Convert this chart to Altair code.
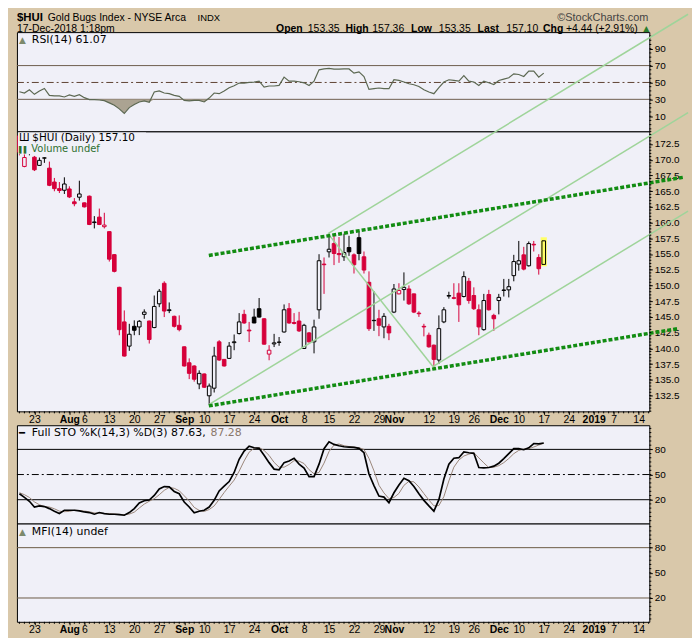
import altair as alt
import pandas as pd

# ------------------------------------------------------------------
# values
# trading-day index: 0 = Mon 23-Jul-2018 ... 102 = Mon 17-Dec-2018
# ------------------------------------------------------------------
day_index = list(range(-3, 103))

opens = [
    173.8, 168.93, 172.3,
    170.4, 169.1, 170.25, 168.66, 166.45, 165.4, 165.14, 165.35, 163.3, 164.04,
    163.14, 164.2, 160.0, 160.87, 159.35, 158.56, 154.9, 149.7, 144.2, 140.35,
    143.5, 143.4, 145.4, 144.34, 143.3, 147.08, 150.35, 146.0, 145.09, 143.66,
    140.24, 137.7, 137.19, 134.34, 135.92, 132.45, 133.66, 141.03, 138.24, 138.4,
    140.9, 142.35, 145.4, 142.9, 144.97, 146.3, 144.7, 139.08, 140.7, 140.95,
    142.6, 146.3, 144.1, 144.34, 139.97, 142.45, 141.03, 146.13, 153.4, 155.35,
    156.66, 155.08, 154.56, 156.03, 154.87, 157.6, 154.56, 150.5, 144.4, 144.7,
    143.4, 143.5, 145.76, 148.66, 149.35, 149.44, 148.66, 145.6, 143.5, 142.08,
    140.5, 138.14, 144.2, 148.3, 148.05, 148.77, 148.24, 150.66, 148.4, 146.13,
    142.97, 148.56, 145.24, 147.6, 149.2, 149.3, 151.56, 153.4, 154.87, 153.13,
    156.55, 154.45, 153.35,
]
highs = [
    174.0, 170.87, 172.6,
    170.6, 170.35, 170.4, 169.7, 167.1, 166.45, 167.2, 165.77, 163.9, 166.66,
    163.2, 164.3, 161.03, 162.23, 161.56, 158.6, 155.0, 149.8, 146.03, 143.9,
    144.45, 144.5, 146.2, 144.4, 148.4, 149.44, 150.66, 147.3, 145.2, 145.24,
    140.3, 138.4, 137.3, 136.5, 136.0, 134.4, 140.24, 141.3, 138.3, 141.0,
    142.2, 145.6, 146.13, 144.2, 146.3, 148.0, 144.8, 140.5, 142.3, 141.8,
    146.98, 147.2, 145.6, 145.8, 143.9, 142.6, 144.55, 154.97, 154.45, 158.24,
    157.87, 157.7, 158.24, 157.9, 155.1, 158.56, 155.4, 152.24, 149.08, 146.13,
    145.6, 143.9, 150.23, 150.35, 152.08, 150.0, 148.7, 145.9, 143.9, 142.5,
    140.6, 145.24, 146.55, 149.0, 150.35, 150.35, 152.24, 151.2, 149.7, 146.98,
    148.66, 149.3, 145.5, 148.66, 151.04, 151.04, 154.87, 157.08, 156.14, 157.0,
    157.08, 154.97, 157.36,
]
lows = [
    170.7, 168.8, 170.7,
    168.2, 169.0, 169.5, 165.8, 164.98, 164.7, 164.55, 163.9, 162.6, 163.5,
    162.4, 159.6, 159.07, 159.6, 159.07, 153.8, 152.08, 142.08, 138.7, 139.6,
    142.08, 142.1, 144.7, 140.76, 143.2, 146.55, 144.97, 145.6, 143.3, 142.7,
    137.1, 135.1, 134.7, 133.5, 133.7, 131.03, 132.97, 138.0, 137.1, 138.3,
    139.7, 142.2, 143.9, 141.0, 144.0, 144.9, 140.6, 138.1, 140.2, 140.4,
    142.5, 143.9, 143.8, 142.6, 139.9, 140.9, 139.2, 144.7, 148.66, 154.45,
    153.24, 153.6, 153.9, 154.7, 151.9, 154.0, 151.9, 142.77, 142.77, 141.93,
    141.6, 141.3, 145.6, 148.6, 147.6, 146.9, 145.6, 145.0, 141.9, 140.1,
    136.97, 137.5, 144.0, 147.9, 147.8, 144.2, 148.1, 147.1, 146.1, 142.08,
    142.8, 146.0, 142.77, 145.4, 148.24, 148.1, 150.66, 152.35, 152.4, 153.0,
    155.4, 151.72, 153.35,
]
closes = [
    171.2, 170.35, 171.3,
    168.4, 169.9, 170.3, 165.93, 165.4, 165.1, 166.14, 164.08, 163.0, 164.55,
    162.5, 159.7, 160.1, 159.7, 159.6, 154.18, 152.24, 142.97, 138.77, 142.24,
    142.87, 144.3, 145.76, 141.4, 146.66, 149.08, 145.93, 146.13, 143.5, 142.97,
    137.19, 136.02, 135.08, 136.02, 133.81, 134.0, 138.77, 138.14, 137.19, 140.35,
    141.03, 144.2, 144.03, 142.77, 144.03, 144.97, 140.66, 139.7, 140.87, 141.0,
    146.13, 144.03, 143.95, 142.77, 143.66, 141.03, 143.4, 153.93, 153.3, 155.76,
    155.08, 154.9, 155.24, 155.35, 153.3, 155.08, 152.45, 143.13, 144.45, 143.66,
    145.09, 142.45, 149.44, 149.2, 149.7, 147.08, 145.76, 145.5, 143.4, 140.24,
    138.24, 143.13, 146.13, 148.4, 147.95, 146.92, 151.4, 147.6, 146.3, 143.4,
    147.6, 146.13, 144.7, 148.1, 149.28, 149.8, 153.8, 153.93, 152.6, 156.66,
    156.45, 152.66, 157.10,
]
prior_close = 172.8

rsi14 = [
    39.0, 37.5, 41.4,
    35.9, 39.9, 42.9, 34.7, 34.0, 34.0, 32.8, 35.2, 33.5, 35.5,
    32.0, 29.6, 29.6, 29.2, 28.5, 25.8, 22.9, 18.7, 13.2, 20.2,
    23.8, 26.9, 28.1, 26.5, 38.7, 39.9, 37.5, 36.7, 34.7, 33.5,
    28.8, 28.1, 28.8, 28.8, 26.9, 31.5, 37.5, 36.7, 39.9, 43.8,
    46.1, 49.3, 49.3, 50.0, 50.5, 51.6, 44.6, 45.8, 45.8, 46.5,
    56.3, 51.6, 51.6, 50.8, 49.6, 46.5, 51.6, 65.0, 66.1, 66.6,
    65.9, 65.7, 66.2, 66.0, 61.0, 62.6, 57.1, 41.8, 42.6, 43.4,
    42.6, 42.6, 53.2, 52.4, 50.5, 48.5, 47.3, 45.3, 41.4, 38.7,
    36.7, 43.8, 50.5, 53.2, 52.4, 51.6, 58.2, 51.6, 50.5, 46.5,
    51.6, 49.6, 47.6, 52.4, 54.0, 55.5, 60.2, 59.4, 57.1, 63.4,
    63.4, 56.3, 61.07,
]
sto_k = [
    27.1, 22.8, 18.1,
    11.3, 12.6, 11.8, 9.4, 6.3, 3.5, 7.4, 7.4, 7.4, 6.7,
    5.4, 4.7, 2.7, 4.7, 3.5, 2.7, 2.7, 2.3, 1.5, 4.7,
    9.4, 16.1, 18.8, 19.6, 25.1, 32.9, 35.7, 35.3, 29.8, 27.1,
    17.2, 11.3, 4.3, 6.3, 7.4, 11.3, 19.2, 30.5, 36.1, 41.6,
    52.5, 68.2, 78.0, 83.9, 81.9, 81.2, 72.9, 64.2, 56.5, 55.7,
    64.2, 66.2, 69.4, 62.4, 57.6, 47.5, 47.5, 62.4, 80.8, 89.0,
    85.9, 84.3, 83.1, 82.7, 82.4, 81.2, 76.0, 50.6, 36.8, 24.3,
    23.1, 16.5, 28.3, 37.6, 45.5, 42.7, 35.7, 27.1, 19.2, 12.6,
    6.3, 20.0, 44.7, 62.4, 69.4, 70.1, 76.9, 76.0, 75.3, 58.4,
    58.0, 58.4, 60.0, 63.5, 69.0, 74.9, 80.8, 80.8, 79.6, 81.9,
    87.0, 86.6, 87.63,
]
sto_d = [
    28.4, 26.0, 22.7,
    17.4, 14.0, 11.9, 11.3, 9.2, 6.4, 5.7, 6.1, 7.4, 7.2,
    6.5, 5.6, 4.3, 4.0, 3.6, 3.6, 3.0, 2.6, 2.2, 2.8,
    5.2, 10.1, 14.8, 18.2, 21.2, 25.9, 31.2, 34.6, 33.6, 30.7,
    24.7, 18.5, 10.9, 7.3, 6.0, 8.3, 12.6, 20.3, 28.6, 36.1,
    43.4, 54.1, 66.2, 76.7, 81.3, 82.3, 78.7, 72.8, 64.5, 58.8,
    58.8, 62.0, 66.6, 66.0, 63.1, 55.8, 50.9, 52.5, 63.6, 77.4,
    85.2, 86.4, 84.4, 83.4, 82.7, 82.1, 79.9, 69.3, 54.5, 37.2,
    28.1, 21.3, 22.6, 27.5, 37.1, 41.9, 41.3, 35.2, 27.3, 19.6,
    12.7, 13.0, 23.7, 42.4, 58.8, 67.3, 72.1, 74.3, 76.1, 69.9,
    63.9, 58.3, 58.8, 60.6, 64.2, 69.1, 74.9, 78.8, 80.4, 80.8,
    82.8, 85.2, 87.28,
]

x_tick_index = [0, 7, 10, 15, 20, 25, 30, 34, 39, 44, 49, 54, 59, 64, 69, 72,
                79, 84, 88, 93, 97, 102, 107, 112, 116, 121]
x_tick_label = ["23", "Aug", "6", "13", "20", "27", "Sep", "10", "17", "24", "Oct",
                "8", "15", "22", "29", "Nov", "12", "19", "26", "Dec", "10", "17",
                "24", "2019", "7", "14"]
x_month_index = [7, 30, 49, 72, 93, 112]
calendar_days = list(range(-3, 124))

price_ticks = [132.5, 135.0, 137.5, 140.0, 142.5, 145.0, 147.5, 150.0, 152.5,
               155.0, 157.5, 160.0, 162.5, 165.0, 167.5, 170.0, 172.5]
price_minor = [130.0 + 0.5 * k for k in range(90)]
rsi_ticks = [10, 30, 50, 70, 90]
osc_ticks = [20, 50, 80]
osc_minor = list(range(-5, 110, 5))

channel_name = ["upper", "upper", "lower", "lower"]
channel_day = [34.93, 129.84, 34.93, 128.85]
channel_price = [154.77, 167.19, 130.84, 143.13]

fork_name = ["median", "median", "upper", "upper", "lower", "lower", "handle", "handle"]
fork_day = [34.93, 130.9, 58.8, 130.9, 79.8, 130.9, 58.8, 79.8]
fork_price = [131.03, 177.49, 158.24, 193.14, 137.1, 161.84, 158.24, 137.1]

# ------------------------------------------------------------------
# layout / style
# ------------------------------------------------------------------
W = 637
H_RSI, H_MAIN, H_GAP, H_STO, H_MFI = 100, 282, 14, 99, 99
X_DOMAIN = [-3.499, 123.14]
PRICE_DOMAIN = [129.973, 174.505]
RSI_DOMAIN = [-8.0, 109.65]
OSC_DOMAIN = [-8.4, 108.76]

TAN = "#d9c8aa"
PANEL = "#f0f0f8"
RED = "#d6003a"
YELLOW = "#ffff66"
DOT_GREEN = "#128c12"
FORK_GREEN = "#9fd49a"
RSI_LINE = "#5c6852"
RSI_FILL = "#a39a86"
LEVEL_BROWN = "#6e5e4e"
D_LINE = "#9a867a"
VOL_GREEN = "#2f6f2f"
ICON = "#7d8a6c"

AX_FONT = "Liberation Sans"
LEG_FONT = "DejaVu Sans"

panel_view = alt.ViewBackground(fill=PANEL, stroke="black", strokeWidth=1)

# ------------------------------------------------------------------
# tables
# ------------------------------------------------------------------
rows = []
prev = prior_close
last_day = day_index[-1]
for d, o, h, l, c in zip(day_index, opens, highs, lows, closes):
    edge = "black" if c >= prev else RED
    if d == last_day:
        face = YELLOW
    elif c < o:
        face = edge
    else:
        face = PANEL
    rows.append(dict(day=d, low=l, high=h, top=max(o, c), bot=min(o, c),
                     left=d - 0.36, right=d + 0.36, edge=edge, face=face))
    prev = c
candles = pd.DataFrame(rows)
halo = candles[candles.day == last_day].copy()
halo["left"] = halo["day"] - 0.62
halo["right"] = halo["day"] + 0.62
halo["low"] = halo["low"] - 0.3
halo["high"] = halo["high"] + 0.3

osc = pd.DataFrame({"day": day_index, "rsi": rsi14, "k": sto_k, "d": sto_d})
osc["lo"] = osc["rsi"].clip(upper=30)
osc["lvl"] = 30

channels = pd.DataFrame({"name": channel_name, "day": channel_day, "price": channel_price})
forks = pd.DataFrame({"name": fork_name, "day": fork_day, "price": fork_price})
days = pd.DataFrame({"day": calendar_days})
one = pd.DataFrame({"k": [0]})

xs = alt.Scale(domain=X_DOMAIN, nice=False, zero=False)


def X(field, axis):
    return alt.X(field, type="quantitative", scale=xs, axis=axis)


def Y(field, domain, axis):
    return alt.Y(field, type="quantitative",
                 scale=alt.Scale(domain=domain, nice=False, zero=False), axis=axis)


def right_axis(values, fmt):
    return alt.Axis(orient="right", values=values, format=fmt, title=None, grid=False,
                    domain=False, ticks=True, tickSize=3, tickColor="black", tickWidth=1,
                    labelFont=AX_FONT, labelFontSize=10, labelColor="black", labelPadding=2)


price_axis = right_axis(price_ticks, ".1f")
rsi_axis = right_axis(rsi_ticks, "d")
osc_axis = right_axis(osc_ticks, "d")

idx_js = ",".join(str(v) for v in x_tick_index)
txt_js = ",".join("'" + t + "'" for t in x_tick_label)
month_js = ",".join(str(v) for v in x_month_index)
bottom_axis = alt.Axis(
    orient="bottom", values=x_tick_index,
    labelExpr="[" + txt_js + "][indexof([" + idx_js + "], datum.value)]",
    labelFontWeight={"condition": {"test": "indexof([" + month_js + "], datum.value) >= 0",
                                   "value": "bold"}, "value": "normal"},
    title=None, grid=False, domain=False, ticks=True, tickSize=3, tickColor="black",
    labelFont=AX_FONT, labelFontSize=10.5, labelColor="black", labelPadding=0,
    labelOverlap=False, labelFlush=False, labelBound=False)


def txt(s, x, y, size=11, weight="normal", color="black", font=LEG_FONT, align="left"):
    return alt.Chart(one).mark_text(
        text=s, align=align, baseline="alphabetic", fontSize=size,
        fontWeight=weight, color=color, font=font).encode(x=alt.value(x), y=alt.value(y))


def level_rules(values, domain, axis, color, dash=None):
    kw = dict(color=color, strokeWidth=1)
    if dash is not None:
        kw["strokeDash"] = dash
    return alt.Chart(pd.DataFrame({"v": values})).mark_rule(**kw).encode(
        x=alt.value(0), x2=alt.value(W), y=Y("v", domain, axis))


def minor_ticks(values, domain, axis):
    return alt.Chart(pd.DataFrame({"v": values})).mark_rule(color="black", strokeWidth=1).encode(
        x=alt.value(W), x2=alt.value(W + 2), y=Y("v", domain, axis))


def day_ticks(height, axis):
    return alt.Chart(days).mark_rule(color="black", strokeWidth=1).encode(
        x=X("day", axis), y=alt.value(height), y2=alt.value(height + 2))


# ------------------------------------------------------------------
# RSI panel (with page header)
# ------------------------------------------------------------------
bounds = alt.Chart(one).mark_rect(opacity=0).encode(
    x=alt.value(-8), x2=alt.value(676), y=alt.value(-20), y2=alt.value(603))

L1 = -11
L2 = -0.5
header = [
    txt("$HUI", 0, L1, size=11.5, weight="bold", font=AX_FONT),
    txt("Gold Bugs Index - NYSE Arca", 31, L1, size=10.5, font=AX_FONT),
    txt("INDX", 182, L1, size=9.5, font=AX_FONT),
    txt("\u00a9StockCharts.com", 636, L1, size=11, color="#444444", font=AX_FONT, align="right"),
    txt("17-Dec-2018 1:18pm", 0, L2, size=10.5, font=AX_FONT),
    txt("Open", 261, L2, size=10.5, weight="bold", font=AX_FONT),
    txt("153.35", 293, L2, size=10.5, font=AX_FONT),
    txt("High", 331, L2, size=10.5, weight="bold", font=AX_FONT),
    txt("157.36", 358, L2, size=10.5, font=AX_FONT),
    txt("Low", 397, L2, size=10.5, weight="bold", font=AX_FONT),
    txt("153.35", 425, L2, size=10.5, font=AX_FONT),
    txt("Last", 464, L2, size=10.5, weight="bold", font=AX_FONT),
    txt("157.10", 493, L2, size=10.5, font=AX_FONT),
    txt("Chg", 530, L2, size=10.5, weight="bold", font=AX_FONT),
    txt("+4.44 (+2.91%)", 553, L2, size=10.5, font=AX_FONT),
    txt("\u25b2", 631, L2 - 1, size=8, color="#2b7d2b", font=LEG_FONT),
]

rsi_area = alt.Chart(osc).mark_area(color=RSI_FILL, opacity=0.9).encode(
    x=X("day", None), y=Y("lvl", RSI_DOMAIN, rsi_axis), y2="lo")
rsi_line = alt.Chart(osc).mark_line(color=RSI_LINE, strokeWidth=1.2).encode(
    x=X("day", None), y=Y("rsi", RSI_DOMAIN, rsi_axis))

rsi_chart = alt.layer(
    bounds, *header,
    level_rules([70, 30], RSI_DOMAIN, rsi_axis, LEVEL_BROWN),
    level_rules([50], RSI_DOMAIN, rsi_axis, "#5e4232", [7, 3, 2, 3]),
    rsi_area, rsi_line,
    minor_ticks(osc_minor, RSI_DOMAIN, rsi_axis),
    txt("\u25b2", 2, 11, size=9, color=ICON),
    txt("RSI(14) 61.07", 15, 11),
).properties(width=W, height=H_RSI, view=panel_view)

# ------------------------------------------------------------------
# price panel
# ------------------------------------------------------------------
wicks = alt.Chart(candles).mark_rule(strokeWidth=1).encode(
    x=X("day", bottom_axis), y=Y("low", PRICE_DOMAIN, price_axis), y2="high",
    color=alt.Color("edge:N", scale=None))
halo_layer = alt.Chart(halo).mark_rect(color=YELLOW).encode(
    x=X("left", bottom_axis), x2="right", y=Y("low", PRICE_DOMAIN, price_axis), y2="high")
bodies = alt.Chart(candles).mark_rect(strokeWidth=1).encode(
    x=X("left", bottom_axis), x2="right", y=Y("top", PRICE_DOMAIN, price_axis), y2="bot",
    fill=alt.Fill("face:N", scale=None), stroke=alt.Stroke("edge:N", scale=None))
channel_layer = alt.Chart(channels).mark_line(
    color=DOT_GREEN, strokeWidth=3.5, strokeDash=[4, 2]).encode(
    x=X("day", bottom_axis), y=Y("price", PRICE_DOMAIN, price_axis), detail="name:N")
fork_layer = alt.Chart(forks).mark_line(color=FORK_GREEN, strokeWidth=1.5).encode(
    x=X("day", bottom_axis), y=Y("price", PRICE_DOMAIN, price_axis), detail="name:N")
legend_bg = alt.Chart(one).mark_rect(color=PANEL).encode(
    x=alt.value(1), x2=alt.value(130), y=alt.value(1), y2=alt.value(23))

main_chart = alt.layer(
    wicks, halo_layer, bodies, fork_layer, channel_layer,
    minor_ticks(price_minor, PRICE_DOMAIN, price_axis),
    day_ticks(H_MAIN, bottom_axis),
    legend_bg,
    txt("\u0428", 2, 9.5, size=10),
    txt("$HUI (Daily) 157.10", 15.5, 9.5, size=10.5),
    txt("\u258c\u258c", 2, 21, size=6.5, color=VOL_GREEN),
    txt("Volume undef", 14.5, 21, size=10, color=VOL_GREEN),
).properties(width=W, height=H_MAIN, view=panel_view)

gap_chart = alt.Chart(one).mark_point(opacity=0).encode(
    x=alt.value(0), y=alt.value(0)).properties(
    width=W, height=H_GAP, view=alt.ViewBackground(fillOpacity=0, strokeOpacity=0))

# ------------------------------------------------------------------
# stochastics panel
# ------------------------------------------------------------------
d_line = alt.Chart(osc).mark_line(color=D_LINE, strokeWidth=1).encode(
    x=X("day", None), y=Y("d", OSC_DOMAIN, osc_axis))
k_line = alt.Chart(osc).mark_line(color="black", strokeWidth=1.7).encode(
    x=X("day", None), y=Y("k", OSC_DOMAIN, osc_axis))

sto_chart = alt.layer(
    level_rules([80, 20], OSC_DOMAIN, osc_axis, "black"),
    level_rules([50], OSC_DOMAIN, osc_axis, "black", [7, 3, 2, 3]),
    d_line, k_line,
    minor_ticks(osc_minor, OSC_DOMAIN, osc_axis),
    txt("\u2501", 2, 11, size=10),
    txt("Full STO %K(14,3) %D(3) 87.63,", 15, 11),
    txt("87.28", 195, 11, color="#8a766a"),
).properties(width=W, height=H_STO, view=panel_view)

# ------------------------------------------------------------------
# MFI panel
# ------------------------------------------------------------------
mfi_chart = alt.layer(
    level_rules([80, 20], OSC_DOMAIN, osc_axis, "#6b5a45"),
    minor_ticks(osc_minor, OSC_DOMAIN, osc_axis),
    day_ticks(H_MFI, bottom_axis),
    txt("\u25b2", 2, 12, size=9, color=ICON),
    txt("MFI(14) undef", 15, 12),
).properties(width=W, height=H_MFI, view=panel_view)

chart = alt.vconcat(
    rsi_chart, main_chart, gap_chart, sto_chart, mfi_chart,
    spacing=0, bounds="flush",
).properties(background=TAN, padding=0)

chart.save("out.html", embed_options={"renderer": "svg", "actions": False})
